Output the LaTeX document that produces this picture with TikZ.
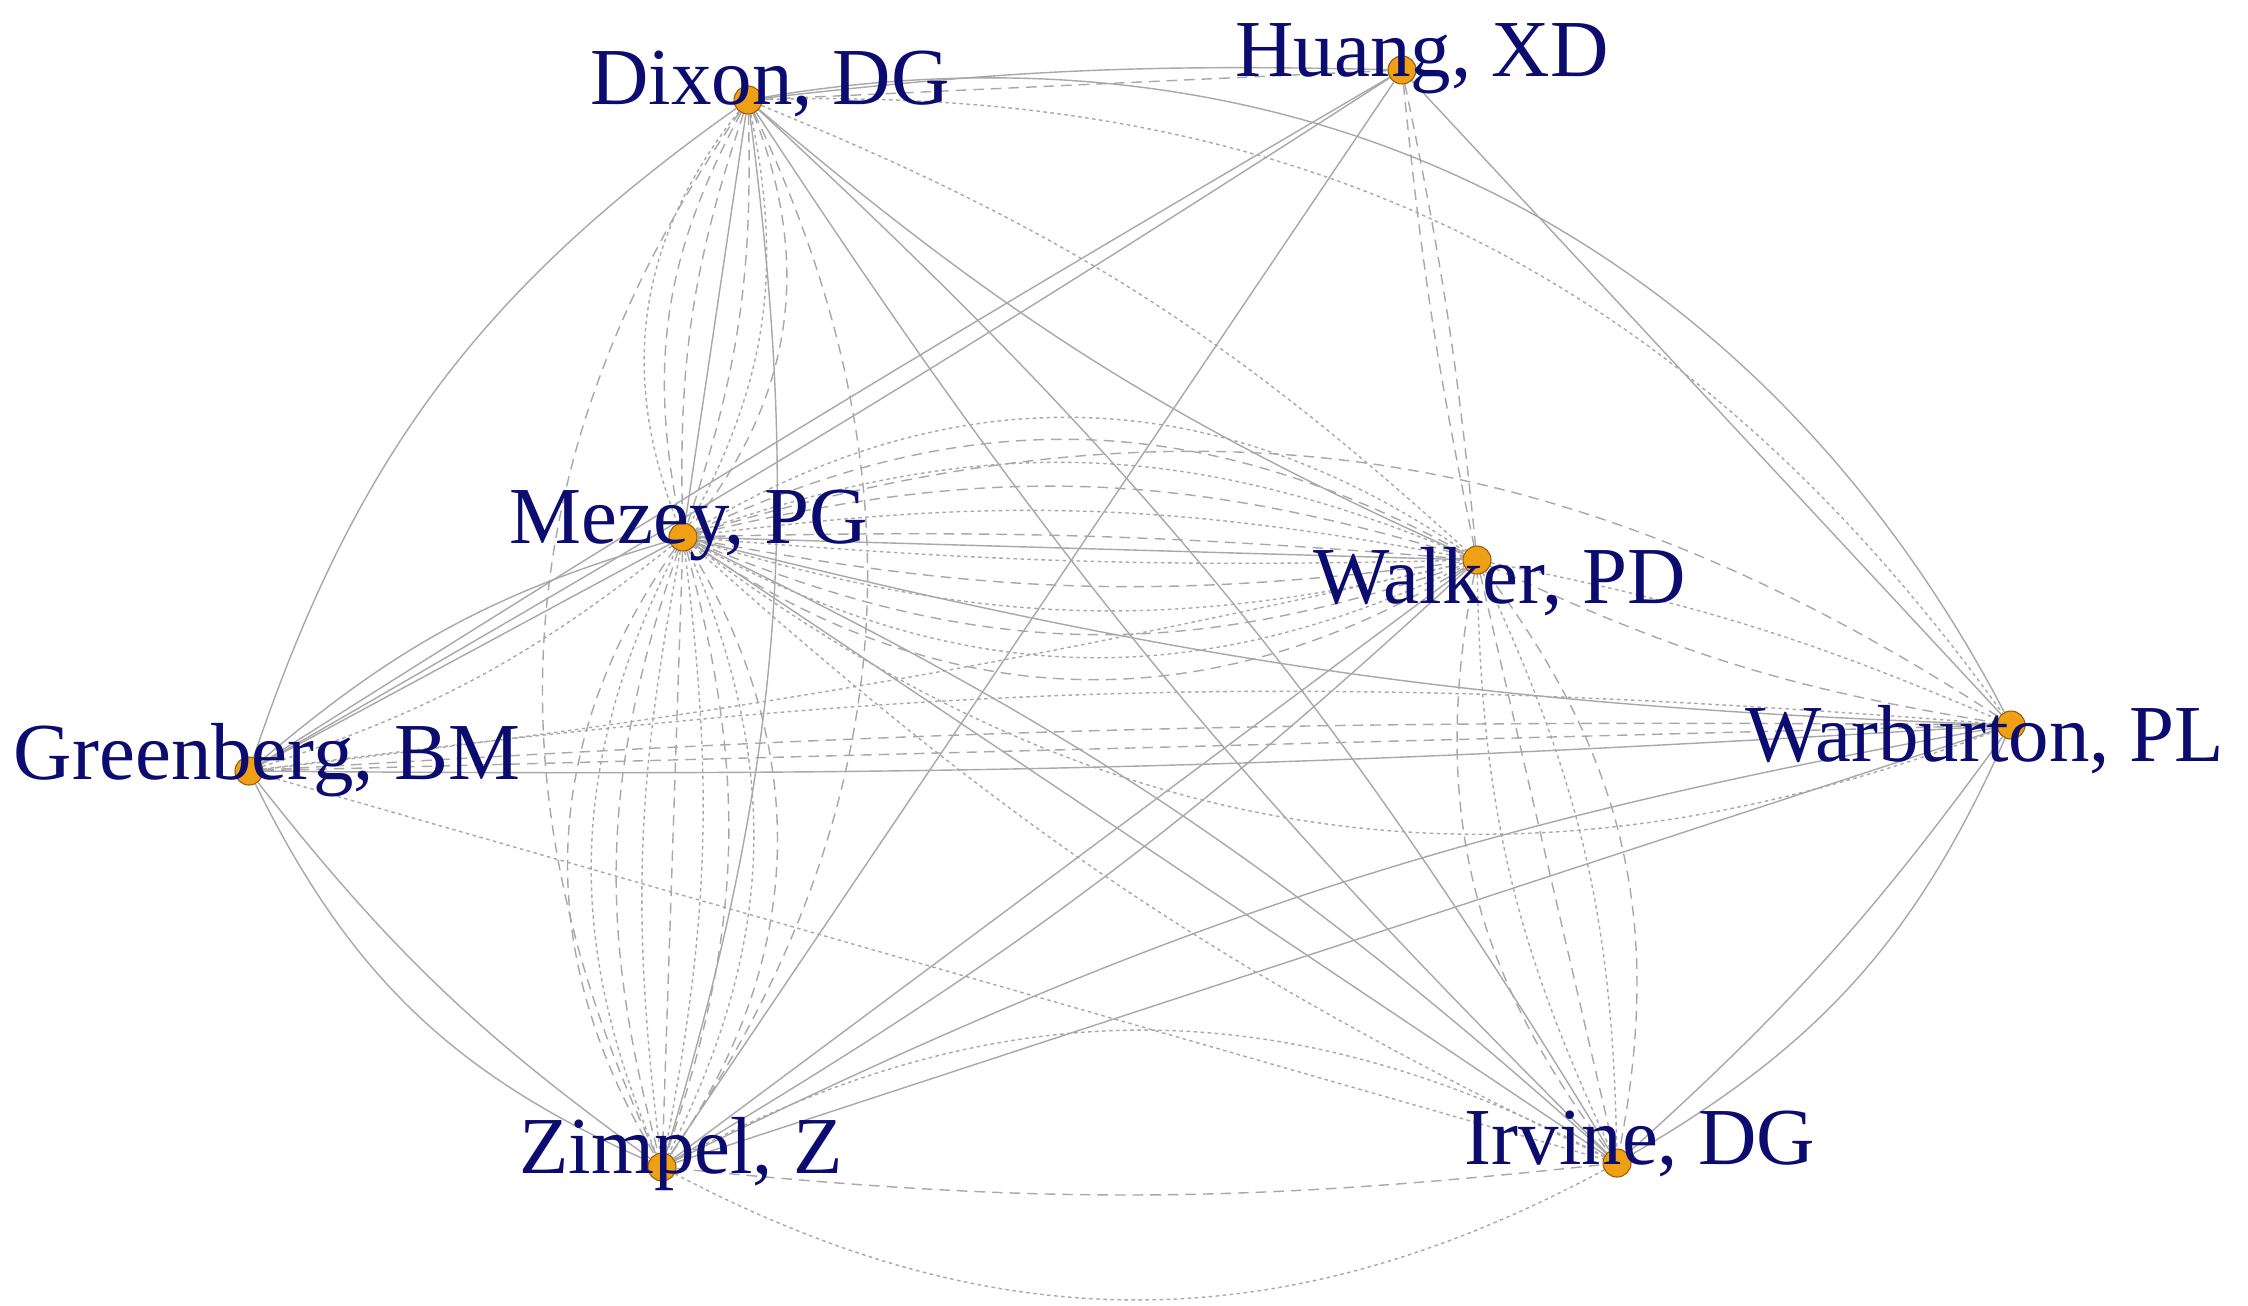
\documentclass[tikz,border=0pt]{standalone}
\usepackage{fontspec}
\setmainfont{Liberation Serif}
\usetikzlibrary{backgrounds}
\definecolor{navy}{RGB}{12,12,112}
\definecolor{dotfill}{RGB}{240,160,20}
\definecolor{dotdraw}{RGB}{150,90,10}
\definecolor{edgec}{RGB}{168,168,168}
\tikzset{
  author/.style={circle,inner sep=0pt,minimum size=0.28cm,fill=dotfill,draw=dotdraw,line width=0.3pt},
  lab/.style={anchor=base,inner sep=0pt,text=navy,font=\fontsize{23}{27}\selectfont},
  es/.style={draw=edgec,line width=0.4pt},
  ed/.style={es,dash pattern=on 3pt off 2pt},
  et/.style={es,dash pattern=on 1pt off 1pt},
}
\begin{document}
\begin{tikzpicture}[x=0.01cm,y=-0.01cm]
\path[use as bounding box] (0,0) rectangle (2248,1305);
\node[author] (D) at (748,100) {};
\node[author] (H) at (1402,70) {};
\node[author] (M) at (683,537) {};
\node[author] (W) at (1477,560) {};
\node[author] (G) at (249,771) {};
\node[author] (P) at (2011,725) {};
\node[author] (Z) at (662,1167) {};
\node[author] (I) at (1617,1163) {};
\begin{scope}[on background layer]
% Dixon - Huang
\draw[ed] (D) -- (H);
\draw[es] (D) to[bend left=4] (H);
% Dixon - Mezey
\foreach \a in {-20,-10,10,30} \draw[ed] (D) to[bend left=\a] (M);
\foreach \a in {-30,20} \draw[et] (D) to[bend left=\a] (M);
\draw[es] (D) -- (M);
% Dixon - Zimpel
\draw[ed] (D) to[bend left=30] (Z);
\draw[ed] (D) to[bend left=-30] (Z);
\draw[es] (D) to[bend left=12] (Z);
% Dixon - Greenberg
\draw[es] (D) to[bend left=-18] (G);
% Dixon - Walker
\draw[es] (D) to[bend left=-8] (W);
\draw[et] (D) to[bend left=10] (W);
% Dixon - Irvine
\draw[es] (D) to[bend left=8] (I);
\draw[es] (D) to[bend left=-6] (I);
% Dixon - Warburton
\draw[et] (D) to[bend left=28] (P);
\draw[es] (D) to[bend left=36] (P);
% Huang
\draw[ed] (H) to[bend left=3] (W);
\draw[ed] (H) to[bend left=-3] (W);
\draw[es] (H) to[bend left=1.5] (G);
\draw[es] (H) to[bend left=-1] (G);
\draw[es] (H) -- (Z);
\draw[es] (H) -- (P);
% Mezey - Walker
\foreach \a in {-33,-21,-9,3,15,27} \draw[ed] (M) to[bend left=\a] (W);
\foreach \a in {-27,-15,-3,9,21,33} \draw[et] (M) to[bend left=\a] (W);
\draw[es] (M) -- (W);
% Mezey - Zimpel
\foreach \a in {-33,-17,0,17,33} \draw[ed] (M) to[bend left=\a] (Z);
\foreach \a in {-25,-9,9,25} \draw[et] (M) to[bend left=\a] (Z);
% Mezey - Greenberg
\draw[es] (M) to[bend left=-12] (G);
\draw[et] (M) to[bend left=10] (G);
\draw[es] (M) -- (G);
% Mezey - Warburton
\draw[ed] (M) to[bend left=25] (P);
\draw[et] (M) to[bend left=-29] (P);
\draw[es] (M) to[bend left=-6] (P);
% Mezey - Irvine
\draw[es] (M) -- (I);
\draw[es] (M) to[bend left=8] (I);
\draw[et] (M) to[bend left=-8] (I);
% Walker - Irvine
\foreach \a in {-24,0,24} \draw[ed] (W) to[bend left=\a] (I);
\foreach \a in {-12,12} \draw[et] (W) to[bend left=\a] (I);
% Walker - others
\draw[ed] (W) to[bend left=-8] (P);
\draw[et] (W) to[bend left=6] (P);
\draw[es] (W) -- (Z);
\draw[es] (W) to[bend left=6] (Z);
\draw[et] (W) to[bend left=3] (G);
% Greenberg - Warburton
\draw[ed] (G) -- (P);
\draw[ed] (G) to[bend left=2] (P);
\draw[es] (G) to[bend left=-2] (P);
\draw[et] (G) to[bend left=6] (P);
% Greenberg - Zimpel, Irvine
\draw[es] (G) to[bend left=-20] (Z);
\draw[es] (G) to[bend left=-8] (Z);
\draw[et] (G) -- (I);
% Zimpel - Irvine
\draw[et] (Z) to[bend left=28] (I);
\draw[et] (Z) to[bend left=-28] (I);
\draw[ed] (Z) to[bend left=-6] (I);
% Zimpel - Warburton
\draw[es] (Z) -- (P);
\draw[es] (Z) to[bend left=8] (P);
% Warburton - Irvine
\draw[es] (P) to[bend left=18] (I);
\draw[es] (P) to[bend left=6] (I);
\end{scope}
\node[lab] (lD) at (770,104) {Dixon, DG};
\node[lab] (lH) at (1422,76) {Huang, XD};
\node[lab] (lM) at (689,543) {Mezey, PG};
\node[lab] (lW) at (1500,603) {Walker, PD};
\node[lab] (lG) at (267,779) {Greenberg, BM};
\node[lab] (lP) at (1985,761) {Warburton, PL};
\node[lab] (lZ) at (681,1173) {Zimpel, Z};
\node[lab] (lI) at (1640,1164) {Irvine, DG};
\end{tikzpicture}
\end{document}
